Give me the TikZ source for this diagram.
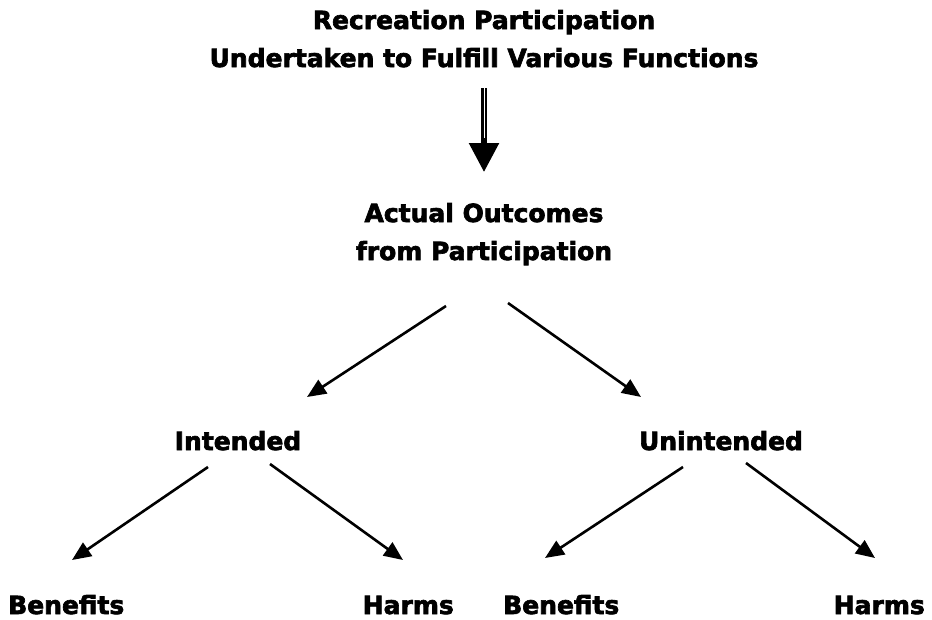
\documentclass[tikz,border=0pt]{standalone}
\usepackage{fontspec}
\setmainfont{DejaVu Sans}[BoldFeatures={FakeBold=2.6}]
\usetikzlibrary{arrows.meta}
\tikzset{
  lbl/.style={font=\fontsize{25}{38}\selectfont\bfseries, inner sep=0pt, align=center},
  conn/.style={line width=2.6pt, -{Triangle[length=19pt,width=16pt]}},
}
\begin{document}
\begin{tikzpicture}[x=1pt,y=-1pt]
\useasboundingbox (0,0) rectangle (932,619);
% texts (base anchor of a two-line node is its last line)
\node[lbl, anchor=base] (title) at (484,67) {Recreation Participation\\Undertaken to Fulfill Various Functions};
\node[lbl, anchor=base] (actual) at (484,260) {Actual Outcomes\\from Participation};
\node[lbl, anchor=base] (intended) at (238,450) {Intended};
\node[lbl, anchor=base] (unintended) at (721,450) {Unintended};
\node[lbl, anchor=base west] (b1) at (8,614) {Benefits};
\node[lbl, anchor=base east] (h1) at (454,614) {Harms};
\node[lbl, anchor=base west] (b2) at (503,614) {Benefits};
\node[lbl, anchor=base east] (h2) at (925,614) {Harms};
% connector points
\coordinate (t0) at (484,88);
\coordinate (t1) at (484,172);
\coordinate (a0) at (446,306);
\coordinate (a1) at (307,397);
\coordinate (a2) at (508,303);
\coordinate (a3) at (641,397);
\coordinate (i0) at (208,467);
\coordinate (i1) at (72,560);
\coordinate (i2) at (270,464);
\coordinate (i3) at (403,560);
\coordinate (u0) at (683,467);
\coordinate (u1) at (545,558);
\coordinate (u2) at (746,463);
\coordinate (u3) at (875,558);
% main arrow (title -> actual)
\draw[line width=5.5pt, -{Triangle[length=29pt,width=29pt]}] (t0) -- (t1);
\draw[white, line width=0.7pt] (t0) -- ++(0,50);
% branch arrows
\draw[conn] (a0) -- (a1);
\draw[conn] (a2) -- (a3);
\draw[conn] (i0) -- (i1);
\draw[conn] (i2) -- (i3);
\draw[conn] (u0) -- (u1);
\draw[conn] (u2) -- (u3);
\end{tikzpicture}
\end{document}
